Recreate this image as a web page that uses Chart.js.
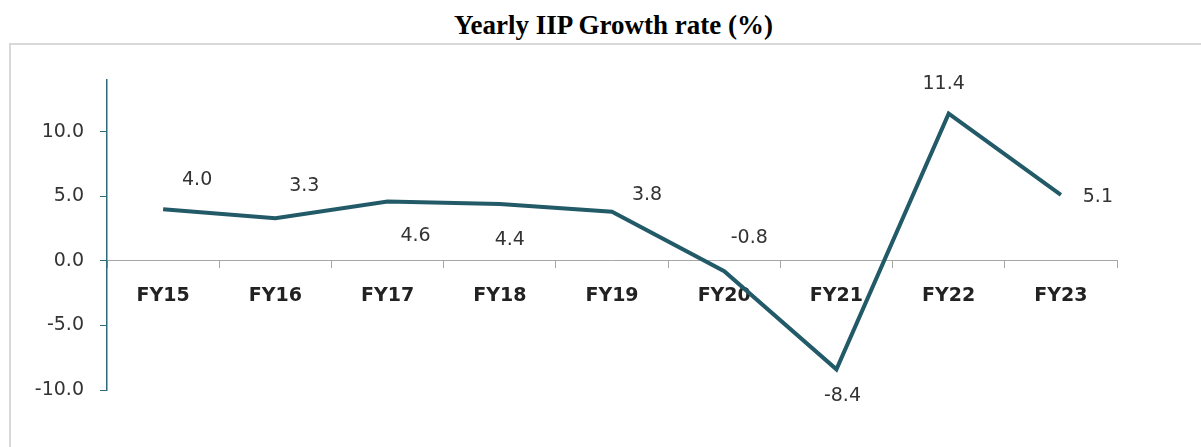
<!DOCTYPE html>
<html>
<head>
<meta charset="utf-8">
<script src="https://cdn.jsdelivr.net/npm/chart.js@4.4.0/dist/chart.umd.min.js"></script>
<style>
  html, body { margin: 0; padding: 0; background: #fff; }
  #wrap { position: relative; width: 1201px; height: 447px; overflow: hidden; }
  #title {
    position: absolute; left: 0; width: 1227px; top: 10px;
    text-align: center; font: bold 27px "Liberation Serif", "Times New Roman", serif; color: #000;
  }
  #frame {
    position: absolute; left: 9px; top: 43px; width: 1300px; height: 500px;
    border: 2px solid #d9d9d9; box-sizing: border-box;
  }
  #chart { position: absolute; left: 0; top: 0; }
</style>
</head>
<body>
<div id="wrap">
  <div id="title">Yearly IIP Growth rate (%)</div>
  <div id="frame"></div>
  <canvas id="chart" width="1201" height="447"></canvas>
</div>
<script>
// chart data
const years = ['FY15', 'FY16', 'FY17', 'FY18', 'FY19', 'FY20', 'FY21', 'FY22', 'FY23'];
const growth = [4.0, 3.3, 4.6, 4.4, 3.8, -0.8, -8.4, 11.4, 5.1];
const yTicks = [-10, -5, 0, 5, 10];

// where each value label sits relative to its point (px)
const labelShift = [[34, -29], [29, -32], [28, 35], [10, 36], [35, -17], [25, -33], [6, 27], [-5, -30], [37, 2]];

const labelFont = '19px "DejaVu Sans", sans-serif';

// draws the value labels next to each point
const valueLabels = {
  id: 'valueLabels',
  afterDatasetsDraw(chart) {
    const ctx = chart.ctx;
    const meta = chart.getDatasetMeta(0);
    ctx.save();
    ctx.font = labelFont;
    ctx.fillStyle = '#333333';
    ctx.textAlign = 'center';
    ctx.textBaseline = 'middle';
    meta.data.forEach(function(pt, i) {
      const s = labelShift[i];
      ctx.fillText(growth[i].toFixed(1), pt.x + s[0], pt.y + s[1]);
    });
    ctx.restore();
  }
};

new Chart(document.getElementById('chart'), {
  type: 'line',
  data: {
    labels: years,
    datasets: [{
      data: growth,
      borderColor: '#225A68',
      borderWidth: 4,
      pointRadius: 0,
      tension: 0,
      fill: false
    }]
  },
  options: {
    responsive: false,
    animation: false,
    events: [],
    layout: { padding: { left: 0, top: 80, right: 84, bottom: 57 } },
    plugins: {
      legend: { display: false },
      title: { display: false },
      tooltip: { enabled: false }
    },
    scales: {
      x: {
        position: { y: 0 },
        offset: true,
        grid: {
          offset: true,
          drawOnChartArea: false,
          drawTicks: true,
          tickLength: 7,
          tickColor: '#A6A6A6',
          lineWidth: 1
        },
        border: { color: '#A6A6A6', width: 1 },
        ticks: {
          color: '#222222',
          padding: 17,
          maxRotation: 0,
          font: { family: '"DejaVu Sans", sans-serif', size: 19, weight: 'bold' }
        }
      },
      y: {
        min: -10,
        max: 14,
        afterFit: function(scale) { scale.width = 107; },
        afterBuildTicks: function(scale) {
          scale.ticks = yTicks.map(v => ({ value: v }));
        },
        grid: {
          drawOnChartArea: false,
          drawTicks: true,
          tickLength: 7,
          tickColor: '#2F6B7A'
        },
        border: { color: '#2F6B7A', width: 1.5 },
        ticks: {
          color: '#333333',
          padding: 16,
          font: { family: '"DejaVu Sans", sans-serif', size: 19 },
          callback: v => v.toFixed(1)
        }
      }
    }
  },
  plugins: [valueLabels]
});
</script>
</body>
</html>
